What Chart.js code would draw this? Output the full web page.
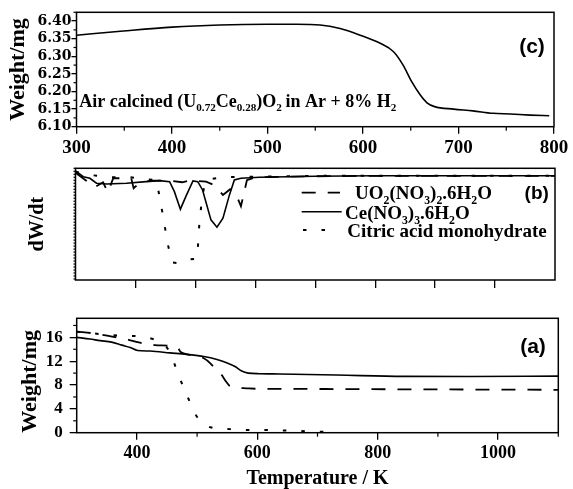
<!DOCTYPE html>
<html>
<head>
<meta charset="utf-8">
<script src="https://cdn.jsdelivr.net/npm/chart.js@4.4.1/dist/chart.umd.min.js"></script>
<style>
html,body{margin:0;padding:0;background:#fff;width:573px;height:489px;overflow:hidden}
.p{position:absolute;left:0}
canvas{display:block}
</style>
</head>
<body>
<div class="p" style="top:0px"><canvas id="c1" width="573" height="160"></canvas></div>
<div class="p" style="top:160px"><canvas id="c2" width="573" height="130"></canvas></div>
<div class="p" style="top:290px"><canvas id="c3" width="573" height="199"></canvas></div>
<script>
// ===== Panel (c): weight of air calcined (U0.72Ce0.28)O2 in Ar + 8% H2 =====
const tempC   = [300, 349, 400, 450, 500, 530, 555, 576, 597, 618, 632, 642, 651, 660, 667, 675, 695, 715, 736, 754, 775, 795];
const weightC = [6.360, 6.372, 6.383, 6.389, 6.391, 6.391, 6.389, 6.379, 6.360, 6.337, 6.313, 6.275, 6.228, 6.190, 6.168, 6.157, 6.150, 6.145, 6.138, 6.136, 6.133, 6.131];
const xTicksC = [300, 400, 500, 600, 700, 800];
const xMinorC = [350, 450, 550, 650, 750];
const yTicksC = [6.10, 6.15, 6.20, 6.25, 6.30, 6.35, 6.40];
const yMinorC = [6.125, 6.175, 6.225, 6.275, 6.325, 6.375, 6.425];

// ===== Series names (shared by panels a and b) =====
const nameU  = 'UO_{2}(NO_{3})_{2}.6H_{2}O';
const nameCe = 'Ce(NO_{3})_{3}.6H_{2}O';
const nameCi = 'Citric acid monohydrate';

// ===== Panel (b): dW/dt (arbitrary units, 0 = baseline) =====
const tempB_U = [300, 318, 332, 346, 354, 363, 393, 397, 406, 425, 444, 455, 478, 490, 496, 518, 532, 546, 558, 567, 576, 586, 600, 700, 800, 900, 1000, 1100];
const dtgB_U  = [4.6, -3.4, -10, -5, -15, -1, -1, -11, -6, -3.4, -3.4, -3.4, -5, -3.4, -3.4, -4.4, -8, -17.7, -12, -16, -29, -3, 0, 1, 1.5, 1.5, 1.5, 1.5];
const tempB_Ce = [300, 313, 324, 335, 352, 385, 418, 440, 457, 465, 475, 484, 496, 504, 512, 526, 536, 546, 556, 565, 576, 607, 700, 800, 900, 1000, 1100];
const dtgB_Ce  = [6.3, 0.6, -1, -6, -6.7, -6, -4.4, -3.4, -4.4, -14.4, -32, -19.4, -3.7, -4.4, -12.7, -42.7, -50, -41, -19.4, -2.7, -1, 0, 1, 1.5, 1.5, 1.5, 1.5];
const tempB_Ci = [300, 324, 360, 391, 416, 435, 442, 448, 453, 461, 471, 481, 503, 505, 507, 511, 516, 524, 546, 580, 650, 720, 800, 900, 1000, 1100];
const dtgB_Ci  = [5.6, 2.3, 0, 0, -2, -2.7, -25.4, -45.4, -64.4, -85.4, -86, -82.7, -81.7, -62.7, -42.7, -22.7, -4.4, -2, 0, 0.5, 1, 1.5, 1.5, 1.5, 1.5, 1.5];
const xTicksB = [400, 500, 600, 700, 800, 900, 1000];

// ===== Panel (a): weight / mg =====
const tempA_U = [300, 328, 361, 378, 405, 430, 458, 469, 472, 482, 511, 522, 533, 540, 548, 555, 582, 609, 637, 787, 1100];
const wA_U    = [16.95, 16.67, 16.1, 15.8, 15.1, 14.7, 14.55, 14.1, 13.6, 13.2, 12.5, 11.65, 10.4, 9.8, 8.6, 7.8, 7.45, 7.35, 7.35, 7.3, 7.2];
const tempA_Ce = [300, 322, 339, 358, 375, 389, 401, 422, 455, 483, 511, 533, 549, 563, 574, 585, 604, 637, 732, 843, 953, 1100];
const wA_Ce    = [16.0, 15.72, 15.45, 15.2, 14.7, 14.3, 13.8, 13.7, 13.4, 13.15, 12.8, 12.3, 11.75, 11.1, 10.35, 10.0, 9.9, 9.85, 9.68, 9.45, 9.42, 9.5];
const tempA_Ci = [300, 339, 369, 399, 432, 445, 456, 469, 483, 499, 512, 522, 555, 586, 616, 650, 680, 710];
const wA_Ci    = [16.95, 16.55, 16.3, 16.2, 15.55, 14.9, 13.2, 9.7, 6.3, 2.8, 1.5, 0.9, 0.6, 0.45, 0.45, 0.35, 0.25, 0.15];
const xTicksA = [400, 600, 800, 1000];
const xMinorA = [500, 700, 900, 1100];
const yTicksA = [0, 4, 8, 12, 16];
const yMinorA = [2, 6, 10, 14, 18];

// ===== helpers =====
const SERIF = "'Liberation Serif', 'Times New Roman', serif";
const SANS = "'Liberation Sans', Arial, sans-serif";

function pts(xs, ys) { return xs.map((x, i) => ({x: x, y: ys[i]})); }

function drawRich(ctx, str, x, y, size, family) {
  const parts = str.split(/(_\{[^}]*\})/).filter(s => s.length);
  let cx = x;
  ctx.textAlign = 'left';
  ctx.textBaseline = 'alphabetic';
  ctx.fillStyle = '#000';
  for (const p of parts) {
    const sub = p.startsWith('_{');
    const t = sub ? p.slice(2, -1) : p;
    const fs = sub ? size * 0.62 : size;
    ctx.font = 'bold ' + fs + 'px ' + family;
    ctx.fillText(t, cx, sub ? y + size * 0.25 : y);
    cx += ctx.measureText(t).width;
  }
}

const decor = {
  id: 'decor',
  afterDraw(chart, args, o) {
    const {ctx, chartArea: a, scales} = chart;
    ctx.save();
    ctx.strokeStyle = '#000';
    ctx.lineWidth = 1.5;
    ctx.strokeRect(a.left, a.top, a.right - a.left, a.bottom - a.top);
    ctx.lineWidth = 1.2;
    (o.minorX || []).forEach(v => {
      const x = scales.x.getPixelForValue(v);
      ctx.beginPath(); ctx.moveTo(x, a.bottom); ctx.lineTo(x, a.bottom + o.minorLenX); ctx.stroke();
    });
    (o.minorY || []).forEach(v => {
      const y = scales.y.getPixelForValue(v);
      ctx.beginPath(); ctx.moveTo(a.left - o.minorLenY, y); ctx.lineTo(a.left, y); ctx.stroke();
    });
    (o.texts || []).forEach(t => {
      if (t.center) {
        ctx.font = 'bold ' + t.size + 'px ' + t.family;
        ctx.fillStyle = '#000';
        ctx.textAlign = 'center';
        ctx.textBaseline = 'middle';
        ctx.fillText(t.text, t.x, t.y);
      } else {
        drawRich(ctx, t.text, t.x, t.y, t.size, t.family);
      }
    });
    if (o.legend) {
      chart.data.datasets.forEach((ds, i) => {
        const r = o.legend.rows[i];
        ctx.save();
        ctx.strokeStyle = ds.borderColor;
        ctx.lineWidth = ds.borderWidth;
        ctx.setLineDash(ds.borderDash || []);
        ctx.beginPath(); ctx.moveTo(r.sx, r.sy); ctx.lineTo(r.ex, r.sy); ctx.stroke();
        ctx.restore();
        drawRich(ctx, ds.label, r.tx, r.ty, o.legend.size, SERIF);
      });
    }
    ctx.restore();
  }
};

function baseOpts(cfg) {
  return {
    responsive: false,
    animation: false,
    devicePixelRatio: 1,
    layout: {padding: cfg.padding},
    elements: {point: {radius: 0}},
    plugins: {legend: {display: false}, tooltip: {enabled: false}, decor: cfg.decor},
    scales: {
      x: {
        type: 'linear', min: cfg.xmin, max: cfg.xmax,
        afterFit: s => { s.height = cfg.xh; },
        afterBuildTicks: s => { s.ticks = cfg.xticks.map(v => ({value: v})); },
        ticks: {display: cfg.xlabels, autoSkip: false, maxRotation: 0, color: '#000', padding: cfg.xpad,
                callback: v => String(v),
                font: {family: SERIF, size: cfg.xfs, weight: 'bold'}},
        grid: {drawOnChartArea: false, tickLength: cfg.xtl, color: '#000', lineWidth: 1.3},
        border: {display: false},
        title: cfg.xtitle || {display: false}
      },
      y: {
        type: 'linear', min: cfg.ymin, max: cfg.ymax,
        afterFit: s => { s.width = cfg.yw; },
        afterBuildTicks: s => { s.ticks = cfg.yticks.map(v => ({value: v})); },
        ticks: {display: cfg.ylabels, autoSkip: false, color: '#000', padding: cfg.ypad,
                callback: cfg.ycb || (v => String(v)),
                font: cfg.yfont},
        grid: {drawOnChartArea: false, drawTicks: cfg.yticks.length > 0, tickLength: cfg.ytl, color: '#000', lineWidth: 1.3},
        border: {display: false},
        title: cfg.ytitle
      }
    }
  };
}

const solid = {borderColor: '#000', borderWidth: 1.6, fill: false};
const dashed = {borderColor: '#000', borderWidth: 1.8, borderDash: [14, 12], fill: false};
const dotted = {borderColor: '#000', borderWidth: 2, borderDash: [3.5, 15], fill: false};

// ----- Chart (c) -----
new Chart(document.getElementById('c1'), {
  type: 'line',
  data: {datasets: [Object.assign({label: 'Air calcined (U0.72Ce0.28)O2', data: pts(tempC, weightC), cubicInterpolationMode: 'monotone'}, solid)]},
  options: baseOpts({
    padding: {left: 0, top: 12.3, right: 19, bottom: 0},
    xmin: 300, xmax: 800, xh: 33.3, xticks: xTicksC, xlabels: true, xpad: 3, xfs: 19, xtl: 7,
    ymin: 6.10, ymax: 6.425, yw: 76.5, yticks: yTicksC, ylabels: true, ypad: 0, ytl: 5,
    ycb: v => v.toFixed(2),
    yfont: {family: "'DejaVu Serif', serif", size: 14, weight: 'bold'},
    ytitle: {display: true, text: 'Weight/mg', color: '#000', padding: {top: 7, bottom: 0},
             font: {family: SERIF, size: 22, weight: 'bold', lineHeight: 1}},
    decor: {
      minorX: xMinorC, minorLenX: 4, minorY: yMinorC, minorLenY: 3,
      texts: [
        {text: 'Air calcined (U_{0.72}Ce_{0.28})O_{2}\u2009in Ar + 8% H_{2}', x: 79.3, y: 106.7, size: 18, family: SERIF},
        {text: '(c)', center: true, x: 532, y: 47.5, size: 21, family: SANS}
      ]
    }
  }),
  plugins: [decor]
});

// ----- Chart (b) -----
const minorB = [];
for (let v = -102; v <= 9; v += 3) minorB.push(v);
new Chart(document.getElementById('c2'), {
  type: 'line',
  data: {datasets: [
    Object.assign({label: nameU, data: pts(tempB_U, dtgB_U)}, dashed),
    Object.assign({label: nameCe, data: pts(tempB_Ce, dtgB_Ce)}, solid),
    Object.assign({label: nameCi, data: pts(tempB_Ci, dtgB_Ci)}, dotted)
  ]},
  options: baseOpts({
    padding: {left: 0, top: 8.3, right: 18, bottom: 0},
    xmin: 300, xmax: 1100, xh: 10, xticks: xTicksB, xlabels: false, xpad: 0, xfs: 18, xtl: 8,
    ymin: -103, ymax: 9, yw: 75.5, yticks: [], ylabels: false, ypad: 0, ytl: 0,
    yfont: {family: SERIF, size: 14, weight: 'bold'},
    ytitle: {display: true, text: 'dW/dt', color: '#000', padding: {top: 28, bottom: 0},
             font: {family: SERIF, size: 20, weight: 'bold', lineHeight: 1}},
    decor: {
      minorY: minorB, minorLenY: 2,
      texts: [{text: '(b)', center: true, x: 536.7, y: 34.2, size: 19, family: SANS}],
      legend: {size: 19, rows: [
        {sx: 301.7, ex: 340, sy: 32.7, tx: 355, ty: 39.3},
        {sx: 301.7, ex: 341.7, sy: 51.7, tx: 345, ty: 59.3},
        {sx: 303, ex: 340, sy: 70, tx: 347.3, ty: 76.5}
      ]}
    }
  }),
  plugins: [decor]
});

// ----- Chart (a) -----
new Chart(document.getElementById('c3'), {
  type: 'line',
  data: {datasets: [
    Object.assign({label: nameU, data: pts(tempA_U, wA_U), cubicInterpolationMode: 'monotone'}, dashed),
    Object.assign({label: nameCe, data: pts(tempA_Ce, wA_Ce), cubicInterpolationMode: 'monotone'}, solid),
    Object.assign({label: nameCi, data: pts(tempA_Ci, wA_Ci), cubicInterpolationMode: 'monotone'}, dotted)
  ]},
  options: baseOpts({
    padding: {left: 0, top: 28.3, right: 14.7, bottom: 0},
    xmin: 300, xmax: 1100, xh: 56.3, xticks: xTicksA, xlabels: true, xpad: 2.5, xfs: 18, xtl: 7,
    xtitle: {display: true, text: 'Temperature / K', color: '#000', padding: {top: 0, bottom: 0},
             font: {family: SERIF, size: 20, weight: 'bold', lineHeight: 1}},
    ymin: 0, ymax: 19.2, yw: 76.7, yticks: yTicksA, ylabels: true, ypad: 7, ytl: 7,
    yfont: {family: SERIF, size: 17, weight: 'bold'},
    ytitle: {display: true, text: 'Weight/mg', color: '#000', align: 'start', padding: {top: 19, bottom: 0},
             font: {family: SERIF, size: 22, weight: 'bold', lineHeight: 1}},
    decor: {
      minorX: xMinorA, minorLenX: 4, minorY: yMinorA, minorLenY: 3.5,
      texts: [{text: '(a)', center: true, x: 533, y: 57.5, size: 21, family: SANS}]
    }
  }),
  plugins: [decor]
});
</script>
</body>
</html>
